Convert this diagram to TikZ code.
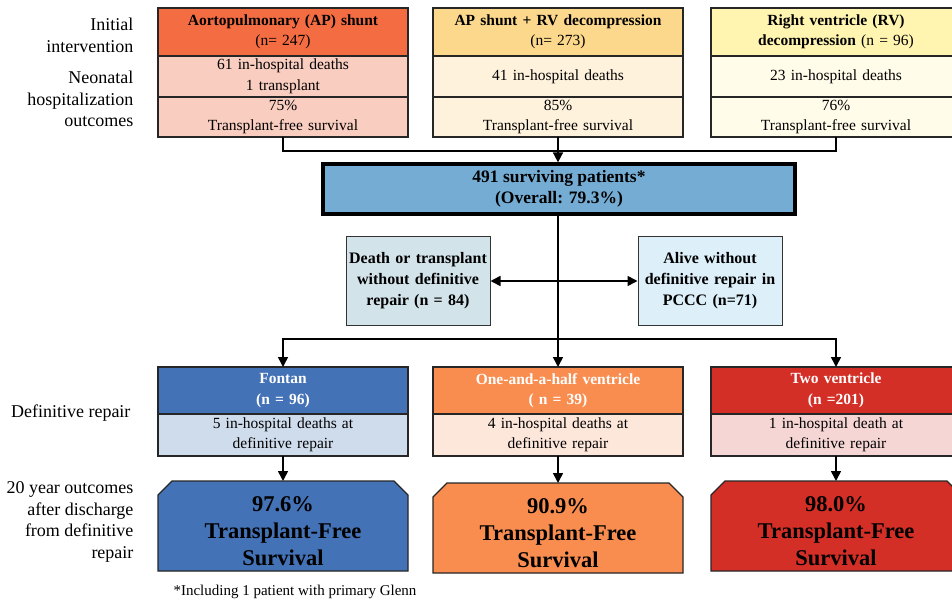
\documentclass[tikz,border=0pt]{standalone}
\usepackage{fontspec}
\setmainfont{Liberation Serif}
\usepackage{xcolor}
\usepackage{tikz}
\usetikzlibrary{positioning}
\usetikzlibrary{backgrounds}
\usetikzlibrary{arrows.meta}

\definecolor{apDark}{HTML}{F36C42}
\definecolor{apLight}{HTML}{F9CDC0}
\definecolor{avDark}{HTML}{FBD88B}
\definecolor{avLight}{HTML}{FEF2DC}
\definecolor{rvDark}{HTML}{FFF5B0}
\definecolor{rvLight}{HTML}{FFFCE9}
\definecolor{survBlue}{HTML}{75ACD3}
\definecolor{deathFill}{HTML}{D3E3EA}
\definecolor{aliveFill}{HTML}{DDEFF8}
\definecolor{fonDark}{HTML}{4472B6}
\definecolor{fonLight}{HTML}{CFDCEC}
\definecolor{ohvDark}{HTML}{F98D50}
\definecolor{ohvLight}{HTML}{FDE6DA}
\definecolor{tvDark}{HTML}{D42F27}
\definecolor{tvLight}{HTML}{F6D6D5}

\begin{document}
\begin{tikzpicture}
  [
    x=1pt, y=-1pt,
    cell/.style={draw=black!85, line width=1.1pt, inner sep=0pt, outer sep=0pt,
      minimum width=250pt, text width=244pt, align=center,
      font=\fontsize{15.5}{20.5}\selectfont},
    head/.style={cell, minimum height=48pt},
    side/.style={anchor=east, align=right, font=\fontsize{18}{21.5}\selectfont},
    mid/.style={draw=black!80, line width=1pt, fill=#1, inner sep=0pt,
      minimum width=144pt, minimum height=89pt, text width=140pt, align=center,
      font=\fontsize{16}{21}\selectfont\bfseries},
    surv/.style={inner sep=0pt, outer sep=0pt, minimum width=250pt, minimum height=100pt,
      text width=244pt, align=center, font=\fontsize{22.5}{27}\selectfont\bfseries},
    ln/.style={draw=black, line width=1.6pt},
    arr/.style={ln, -{Triangle[length=10pt,width=10pt]}},
    arrTwo/.style={ln, {Triangle[length=10pt,width=10pt]}-{Triangle[length=10pt,width=10pt]}}
  ]
  \useasboundingbox (0,0) rectangle (952,604);

  \node (initLab) at (137,35.5) [side] {Initial\\intervention};
  \node (neoLab)  at (137,99)   [side] {Neonatal\\hospitalization\\outcomes};
  \node (defLab)  at (134,413)  [side] {Definitive repair};
  \node (longLab) at (137,522)  [side] {20 year outcomes\\after discharge\\from definitive\\repair};

  \node (apHead)  at (283,32) [head, fill=apDark] {\textbf{Aortopulmonary (AP) shunt}\\(n= 247)};
  \node (apDeath) [cell, fill=apLight, minimum height=41pt, below=0pt of apHead] {61 in-hospital deaths\\1 transplant};
  \node (apSurv)  [cell, fill=apLight, minimum height=40pt, below=0pt of apDeath] {75\%\\Transplant-free survival};

  \node (avHead)  at (558,32) [head, fill=avDark] {\textbf{AP shunt + RV decompression}\\(n= 273)};
  \node (avDeath) [cell, fill=avLight, minimum height=41pt, below=0pt of avHead] {41 in-hospital deaths};
  \node (avSurv)  [cell, fill=avLight, minimum height=40pt, below=0pt of avDeath] {85\%\\Transplant-free survival};

  \node (rvHead)  at (836,32) [head, fill=rvDark] {\textbf{Right ventricle (RV)}\\\textbf{decompression} (n = 96)};
  \node (rvDeath) [cell, fill=rvLight, minimum height=41pt, below=0pt of rvHead] {23 in-hospital deaths};
  \node (rvSurv)  [cell, fill=rvLight, minimum height=40pt, below=0pt of rvDeath] {76\%\\Transplant-free survival};

  \node (survAll) at (559,189) [draw=black, line width=3.2pt, fill=survBlue, inner sep=0pt,
    minimum width=472pt, minimum height=50pt, align=center,
    font=\fontsize{17.5}{20.5}\selectfont\bfseries] {491 surviving patients*\\(Overall: 79.3\%)};

  \node (deathBox) at (418,281) [mid=deathFill] {Death or transplant\\without definitive\\repair (n = 84)};
  \node (aliveBox) at (710,281) [mid=aliveFill] {Alive without\\definitive repair in\\PCCC (n=71)};

  \node (fonHead)  at (283,390.5) [head, minimum height=47pt, fill=fonDark, text=white] {\textbf{Fontan}\\\textbf{(n = 96)}};
  \node (fonDeath) [cell, fill=fonLight, minimum height=42pt, below=0pt of fonHead] {5 in-hospital deaths at\\definitive repair};
  \node (fonSurv)  at (283,531) [surv] {97.6\%\\Transplant-Free\\Survival};

  \node (ohvHead)  at (558,390.5) [head, minimum height=47pt, fill=ohvDark, text=white] {\textbf{One-and-a-half ventricle}\\\textbf{( n = 39)}};
  \node (ohvDeath) [cell, fill=ohvLight, minimum height=42pt, below=0pt of ohvHead] {4 in-hospital deaths at\\definitive repair};
  \node (ohvSurv)  at (558,533) [surv] {90.9\%\\Transplant-Free\\Survival};

  \node (tvHead)  at (836,390.5) [head, minimum height=47pt, fill=tvDark, text=white] {\textbf{Two ventricle}\\\textbf{(n =201)}};
  \node (tvDeath) [cell, fill=tvLight, minimum height=42pt, below=0pt of tvHead] {1 in-hospital death at\\definitive repair};
  \node (tvSurv)  at (836,531) [surv] {98.0\%\\Transplant-Free\\Survival};

  \node (note) at (295,592) [font=\fontsize{15}{18}\selectfont] {*Including 1 patient with primary Glenn};

  \begin{scope}[on background layer]
    \foreach \n/\c in {fonSurv/fonDark, ohvSurv/ohvDark, tvSurv/tvDark}
      \draw[draw=black!85, line width=1.1pt, fill=\c]
        ([yshift=-14pt]\n.north west) -- ([xshift=14pt]\n.north west)
        -- ([xshift=-14pt]\n.north east) -- ([yshift=-14pt]\n.north east)
        -- ([yshift=10pt]\n.south east) -- ([yshift=10pt]\n.south west) -- cycle;
  \end{scope}

  \coordinate (topJoin) at (558,151);
  \coordinate (lowJoin) at (558,339);

  \draw[ln] (apSurv.south) |- (topJoin) -| (rvSurv.south);
  \draw[arr] (avSurv.south) -- (survAll.north -| avSurv.south);
  \draw[ln] (survAll.south -| lowJoin) -- (lowJoin);
  \draw[arrTwo] (deathBox) -- (aliveBox);
  \draw[arr] (lowJoin) -| (fonHead.north);
  \draw[arr] (lowJoin) -- (ohvHead.north);
  \draw[arr] (lowJoin) -| (tvHead.north);
  \draw[arr] (fonDeath.south) -- (fonSurv.north);
  \draw[arr] (ohvDeath.south) -- (ohvSurv.north);
  \draw[arr] (tvDeath.south) -- (tvSurv.north);
\end{tikzpicture}
\end{document}
